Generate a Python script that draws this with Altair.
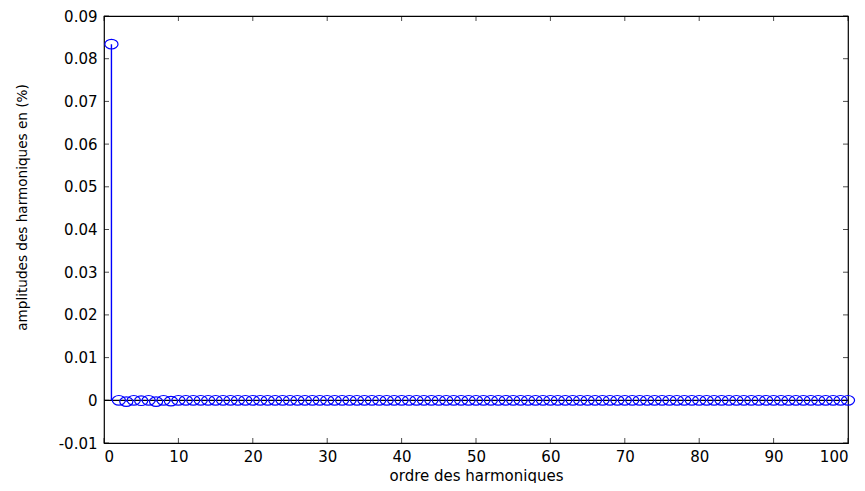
import altair as alt
import pandas as pd

# ---- data ----
harmonics = list(range(1, 101))
amplitudes = [0.0834, 0.0, -0.0003, 0.0, -0.0001, 0.0, -0.0003, 0.0, -0.0002] + [0.0] * 91
x_ticks = [0, 10, 20, 30, 40, 50, 60, 70, 80, 90, 100]
y_ticks = [-0.01, 0, 0.01, 0.02, 0.03, 0.04, 0.05, 0.06, 0.07, 0.08, 0.09]

W, H = 744, 427
FONT = "DejaVu Sans"
BLUE = "#0000ff"

df = pd.DataFrame({"h": harmonics, "a": amplitudes})
xt = pd.DataFrame({"t": x_ticks})
yt = pd.DataFrame({"t": y_ticks})

xscale = alt.Scale(domain=[0, 100], nice=False, zero=False)
yscale = alt.Scale(domain=[-0.01, 0.09], nice=False, zero=False)

base = alt.Chart(df)

stems = base.mark_rule(color=BLUE, stroke=BLUE, strokeWidth=1.4, opacity=1).encode(
    x=alt.X("h:Q", scale=xscale,
            axis=alt.Axis(values=x_ticks, title="ordre des harmoniques", grid=False,
                          ticks=False, domain=False, labelFont=FONT, labelFontSize=15,
                          labelColor="black", labelPadding=6, titleFont=FONT,
                          titleFontSize=15, titleFontWeight="normal", titleColor="black",
                          titlePadding=4, format="d")),
    y=alt.Y("a:Q", scale=yscale,
            axis=alt.Axis(values=y_ticks, title="amplitudes des harmoniques en (%)",
                          grid=False, ticks=False, domain=False, labelFont=FONT,
                          labelFontSize=15, labelColor="black", labelPadding=7,
                          labelExpr="datum.value == 0 ? '0' : replace(format(datum.value, '.2f'), '\u2212', '-')",
                          titleFont=FONT, titleFontSize=13.6,
                          titleFontWeight="normal", titleColor="black",
                          titleX=-82, titleY=191, titleAngle=-90,
                          titleBaseline="middle", titleAlign="center")),
    y2=alt.datum(0),
)

baseline = alt.Chart(pd.DataFrame({"z": [0]})).mark_rule(color="black", strokeWidth=1.2).encode(
    y=alt.Y("z:Q", scale=yscale),
    x=alt.value(0), x2=alt.value(W),
)

ellipse = "M -1.37 0 A 1.37 1 0 1 0 1.37 0 A 1.37 1 0 1 0 -1.37 0 Z"
points = base.mark_point(shape=ellipse, filled=False, color=BLUE, size=92, strokeWidth=1.2,
                         opacity=1).encode(
    x=alt.X("h:Q", scale=xscale),
    y=alt.Y("a:Q", scale=yscale),
)

tick_bottom = alt.Chart(xt).mark_tick(orient="vertical", size=5, thickness=1, color="black").encode(
    x=alt.X("t:Q", scale=xscale), y=alt.value(H - 2.5))
tick_top = alt.Chart(xt).mark_tick(orient="vertical", size=5, thickness=1, color="black").encode(
    x=alt.X("t:Q", scale=xscale), y=alt.value(2.5))
tick_left = alt.Chart(yt).mark_tick(orient="horizontal", size=5, thickness=1, color="black").encode(
    y=alt.Y("t:Q", scale=yscale), x=alt.value(2.5))
tick_right = alt.Chart(yt).mark_tick(orient="horizontal", size=5, thickness=1, color="black").encode(
    y=alt.Y("t:Q", scale=yscale), x=alt.value(W - 2.5))

chart = alt.layer(baseline, stems, points, tick_bottom, tick_top, tick_left, tick_right).properties(
    width=W, height=H,
    autosize=alt.AutoSizeParams(type="none"),
    padding={"left": 96, "top": 8, "right": 9, "bottom": 40},
    background="white",
).configure_view(stroke="black", strokeWidth=1.2)

chart.save("out.html", embed_options={"renderer": "svg", "actions": False})
